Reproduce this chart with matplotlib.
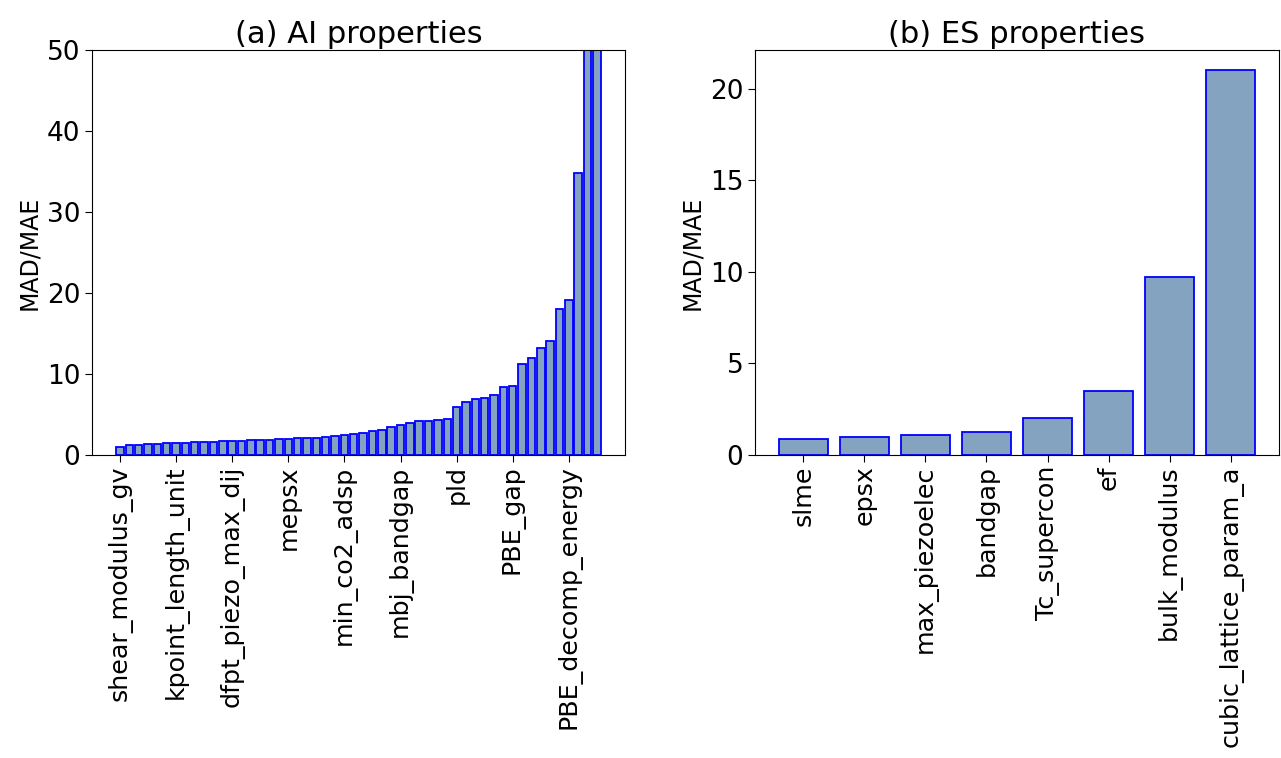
import matplotlib
matplotlib.use("Agg")
import matplotlib.pyplot as plt
from matplotlib.ticker import MultipleLocator
import numpy as np

# (a) AI properties: 52 sorted MAD/MAE values (last two exceed the 50 limit)
ai_values = [1.04, 1.24, 1.26, 1.40, 1.41, 1.44, 1.45, 1.52, 1.56, 1.60,
             1.58, 1.69, 1.70, 1.71, 1.81, 1.82, 1.85, 1.94, 1.95, 2.05,
             2.06, 2.07, 2.18, 2.35, 2.47, 2.59, 2.67, 3.00, 3.13, 3.45,
             3.75, 3.95, 4.22, 4.22, 4.34, 4.50, 5.93, 6.50, 6.92, 7.00,
             7.37, 8.40, 8.56, 11.28, 11.94, 13.25, 14.07, 17.98, 19.20, 34.8,
             75.0, 95.0]
ai_tick_labels = ["shear_modulus_gv", "kpoint_length_unit", "dfpt_piezo_max_dij",
                  "mepsx", "min_co2_adsp", "mbj_bandgap", "pld", "PBE_gap",
                  "PBE_decomp_energy"]
ai_tick_step = 6

# (b) ES properties
es_labels = ["slme", "epsx", "max_piezoelec", "bandgap", "Tc_supercon", "ef",
             "bulk_modulus", "cubic_lattice_param_a"]
es_values = [0.85, 0.96, 1.09, 1.28, 2.02, 3.50, 9.73, 21.04]

bar_color = (0.2, 0.4, 0.6, 0.6)
edge_color = "blue"

plt.rcParams["font.size"] = 16

fig = plt.figure(figsize=(12.81, 7.58), dpi=100)
ax1 = fig.add_axes([0.0718, 0.3997, 0.416, 0.534])
ax2 = fig.add_axes([0.5894, 0.3997, 0.409, 0.534])

x1 = np.arange(len(ai_values))
ax1.bar(x1, ai_values, color=bar_color, edgecolor=edge_color, linewidth=1.3)
ax1.set_ylim(0, 50)
ax1.set_xticks(x1[::ai_tick_step][:len(ai_tick_labels)])
ax1.set_xticklabels(ai_tick_labels, rotation=90)
ax1.set_ylabel("MAD/MAE", fontsize=17)
ax1.set_title("(a) AI properties", fontsize=22, pad=5)

x2 = np.arange(len(es_values))
ax2.bar(x2, es_values, color=bar_color, edgecolor=edge_color, linewidth=1.3)
ax2.yaxis.set_major_locator(MultipleLocator(5))
ax2.set_xticks(x2)
ax2.set_xticklabels(es_labels, rotation=90)
ax2.set_ylabel("MAD/MAE", fontsize=17)
ax2.set_title("(b) ES properties", fontsize=22, pad=5)

for ax in (ax1, ax2):
    ax.tick_params(axis="y", labelsize=19, length=5)
    ax.tick_params(axis="x", labelsize=18.3, length=5, pad=2.5)

fig.savefig("out.png", dpi=100)
